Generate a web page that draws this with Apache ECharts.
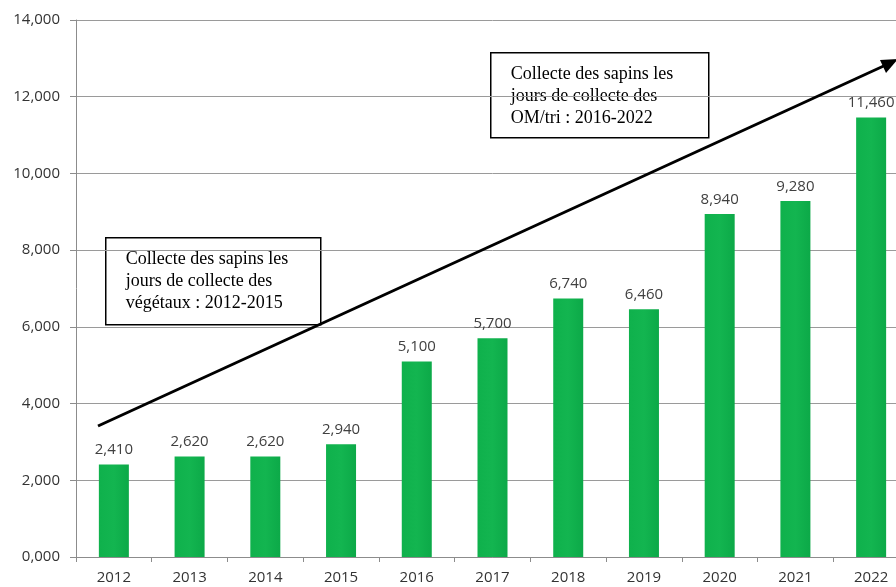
<!DOCTYPE html>
<html>
<head>
<meta charset="utf-8">
<script src="https://cdn.jsdelivr.net/npm/echarts@6/dist/echarts.min.js"></script>
<style>
  html, body { margin: 0; padding: 0; background: #fff; overflow: hidden; }
  #main { width: 912px; height: 587px; }
</style>
</head>
<body>
<div id="main"></div>
<script>
// données
const years = ["2012", "2013", "2014", "2015", "2016", "2017", "2018", "2019", "2020", "2021", "2022"];
const tonnages = [2410, 2620, 2620, 2940, 5100, 5700, 6740, 6460, 8940, 9280, 11460];
const noteVegetaux = ["Collecte des sapins les", "jours de collecte des", "végétaux : 2012-2015"];
const noteOm = ["Collecte des sapins les", "jours de collecte des", "OM/tri : 2016-2022"];

let fmt = (v) => {
  if (v === 0) return "0,000";
  return v.toLocaleString("en-US");
};

// le graphique d'origine est rogné à droite : le canvas fait 912px, la fenêtre 896px
let chart = echarts.init(document.getElementById("main"));

let boxText = (lines, x, y, w, h) => ({
  type: "group",
  left: x,
  top: y,
  z: 100,
  children: [
    {
      type: "rect",
      shape: { x: 0, y: 0, width: w, height: h },
      style: { fill: "#fff", stroke: "#000", lineWidth: 1.5 },
    },
    {
      type: "text",
      x: 20,
      y: 11,
      style: {
        text: lines.join("\n"),
        font: "18px 'Liberation Serif', serif",
        fill: "#000",
        lineHeight: 22,
      },
    },
  ],
});

let option = {
  animation: false,
  backgroundColor: "#fff",
  grid: {
    left: 76,
    top: 20,
    right: 3,
    bottom: 30,
  },
  xAxis: {
    type: "category",
    data: years,
    axisLine: { lineStyle: { color: "#8c8c8c", width: 1 } },
    axisTick: { show: true, length: 5, lineStyle: { color: "#8c8c8c" } },
    axisLabel: {
      color: "#333",
      fontSize: 15,
      fontFamily: "'Open Sans', sans-serif",
      margin: 13,
    },
  },
  yAxis: {
    type: "value",
    min: 0,
    max: 14000,
    interval: 2000,
    axisLine: { show: true, lineStyle: { color: "#8c8c8c", width: 1 } },
    axisTick: { show: true, length: 6, lineStyle: { color: "#8c8c8c" } },
    splitLine: { show: true, lineStyle: { color: "#9a9a9a", width: 1 } },
    axisLabel: {
      color: "#333",
      fontSize: 15,
      fontFamily: "'Open Sans', sans-serif",
      margin: 16,
      formatter: fmt,
    },
  },
  series: [
    {
      type: "bar",
      data: tonnages,
      barWidth: 30,
      itemStyle: {
        color: new echarts.graphic.LinearGradient(0, 0, 1, 0, [
          { offset: 0, color: "#0fb14c" },
          { offset: 0.5, color: "#13b550" },
          { offset: 1, color: "#0ca948" },
        ]),
      },
      label: {
        show: true,
        position: "top",
        distance: 7,
        color: "#404040",
        fontSize: 15,
        fontFamily: "'Open Sans', sans-serif",
        formatter: (p) => fmt(p.value),
      },
    },
  ],
  graphic: [
    // flèche de tendance
    {
      type: "line",
      z: 50,
      shape: { x1: 98, y1: 426, x2: 888, y2: 64 },
      style: { stroke: "#000", lineWidth: 3 },
    },
    {
      type: "polygon",
      z: 50,
      shape: { points: [[898, 59], [880, 60], [886, 73]] },
      style: { fill: "#000" },
    },
    boxText(noteOm, 490, 52, 218, 85),
    boxText(noteVegetaux, 105, 237, 215, 87),
  ],
};

chart.setOption(option);
</script>
</body>
</html>
